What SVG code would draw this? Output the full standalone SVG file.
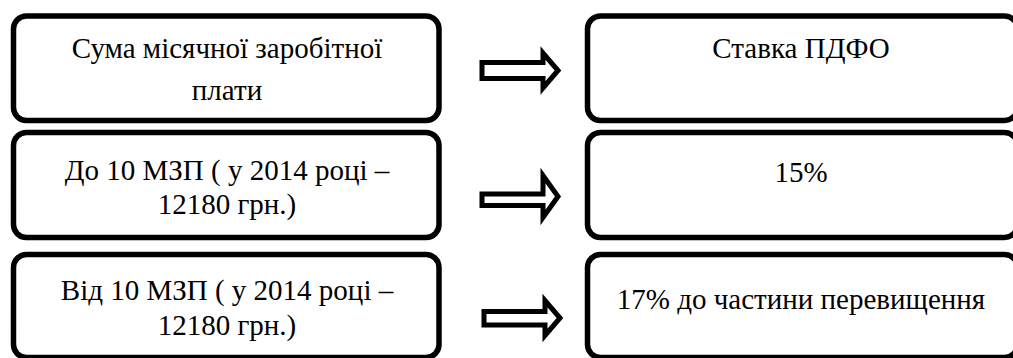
<svg xmlns="http://www.w3.org/2000/svg" width="1013" height="358" viewBox="0 0 1013 358">
<style>
.box{fill:#fff;stroke:#000;stroke-width:5.5}
.arr{fill:#fff;stroke:#000;stroke-width:5;stroke-linejoin:miter;stroke-miterlimit:10}
.t{font-family:"Liberation Serif","Times New Roman",serif;font-size:29px;fill:#000;text-anchor:middle}
</style>
<rect width="1013" height="358" fill="#fff"/>
<g id="n1"><rect class="box" x="13.5" y="16" width="425.5" height="104.5" rx="13"/>
<text class="t" x="227" y="58">Сума місячної заробітної</text><text class="t" x="227" y="100">плати</text></g>
<g id="n2"><rect class="box" x="587.5" y="16" width="430" height="104.5" rx="13"/>
<text class="t" x="801" y="58">Ставка ПДФО</text></g>
<g id="n3"><rect class="box" x="13.5" y="132.5" width="425.5" height="105" rx="13"/>
<text class="t" x="227" y="180">До 10 МЗП ( у 2014 році –</text><text class="t" x="227" y="214">12180 грн.)</text></g>
<g id="n4"><rect class="box" x="587.5" y="132.5" width="430" height="105" rx="13"/>
<text class="t" x="801" y="182">15%</text></g>
<g id="n5"><rect class="box" x="13.5" y="254.5" width="425.5" height="103" rx="13"/>
<text class="t" x="227" y="300">Від 10 МЗП ( у 2014 році –</text><text class="t" x="227" y="335">12180 грн.)</text></g>
<g id="n6"><rect class="box" x="587.5" y="254.5" width="430" height="103" rx="13"/>
<text class="t" x="801" y="309">17% до частини перевищення</text></g>
<g id="connectors">
<polygon class="arr" points="482,62.5 543,62.5 543,53 558,70.5 543,88 543,78.5 482,78.5"/>
<polygon class="arr" points="482,194 543,194 543,175.5 558,196.5 543,217.5 543,205.5 482,205.5"/>
<polygon class="arr" points="484,311.5 545,311.5 545,300.5 560,318 545,335.5 545,325 484,325"/>
</g>
</svg>
